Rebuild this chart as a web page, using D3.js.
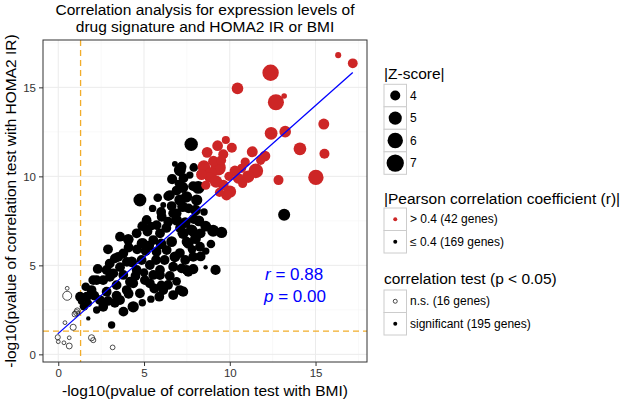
<!DOCTYPE html>
<html><head><meta charset="utf-8">
<script src="https://cdn.jsdelivr.net/npm/d3@7"></script>
<style>body{margin:0;background:#fff}svg{display:block}text{font-family:"Liberation Sans",Arial,Helvetica,sans-serif}</style>
</head><body><svg id="c" width="625" height="401"></svg>
<script>
// ---------- data ----------
// |Pearson r| > 0.4, significant (red)
const redX=[16.32,17.17,12.38,10.45,13.17,12.69,15.48,12.41,13.23,9.77,9.29,10.12,8.68,9.62,14.09,11.31,15.52,12.05,8.49,9.32,8.90,11.52,10.69,11.07,10.49,15.02,12.84,9.62,10.01,8.84,9.81,9.05,8.35,10.3,10.75,9.2,9.95,8.6,11.8,9.4,10.9,9.5];
const redY=[16.81,16.35,15.82,14.94,14.51,14.16,12.94,12.42,12.51,12.04,11.72,11.61,11.35,11.24,11.55,11.38,11.27,11.14,10.54,10.48,10.17,10.31,10.45,9.98,9.89,9.94,9.79,9.51,9.14,9.94,8.95,10.85,10.1,10.3,9.6,9.7,10.0,9.5,10.9,9.1,10.8,10.9];
const redZ=[3.36,3.95,6.49,4.45,3.33,6.33,4.25,4.85,4.45,3.6,4.2,4.0,4.2,4.0,4.85,4.25,4.0,4.2,4.85,5.98,4.7,5.61,3.8,4.7,4.2,5.98,4.0,4.2,4.7,4.2,4.2,4.2,4.2,4.2,3.8,4.7,3.8,3.8,3.8,3.8,3.8,3.95];
// |Pearson r| <= 0.4, significant (black filled)
const blackX=[7.75,6.80,7.09,6.64,7.67,7.25,8.16,8.20,4.76,6.51,7.09,8.07,6.12,6.61,7.48,6.41,7.86,5.15,6.03,5.73,5.40,6.41,6.90,6.90,7.28,7.77,4.57,4.08,3.60,4.95,5.54,5.93,6.61,6.32,5.73,6.80,7.58,7.87,3.79,3.30,4.28,4.86,5.34,4.57,3.79,3.21,2.82,2.62,2.04,1.94,1.66,2.82,3.40,4.18,5.05,5.54,5.93,6.70,7.48,7.09,6.12,9.03,9.52,9.17,8.59,7.87,7.28,7.58,8.26,7.48,7.09,7.87,13.17,5.89,6.70,3.11,1.75,1.27,2.24,3.01,3.60,4.37,3.99,4.76,5.34,2.43,1.75,2.24,2.62,3.50,5.15,6.70,4.86,7.19,5.93,4.37,
7.19,7.25,7.6,8.0,8.5,8.2,7.9,7.4,7.1,8.6,8.3,8.0,6.3,6.0,5.2,4.9,5.5,5.8,6.9,7.0,5.1,4.6,4.1,2.9,2.3,3.0,3.6,4.0,5.7,6.2,6.5,6.9,6.4,5.6,4.9,3.3,2.9,3.8,2.1,1.5,1.35,1.6,3.4,4.5,5.0,4.1,5.4,6.0,8.3,8.6,8.9,7.4,7.8,5.3,6.0,7.3,7.9];
const blackY=[11.8,10.7,10.35,9.85,10.07,9.38,9.38,10.2,8.67,8.95,8.67,8.67,8.39,8.33,8.85,8.89,9.45,7.60,7.73,7.26,7.2,7.45,7.54,7.92,6.80,6.98,6.80,6.46,6.61,6.24,6.42,6.80,6.33,5.86,5.76,5.48,6.24,5.48,5.67,5.39,5.20,5.30,5.02,4.74,4.46,4.55,4.74,4.17,4.17,3.61,3.24,3.52,3.89,4.08,4.17,4.46,4.74,4.92,4.74,3.61,3.61,6.94,6.85,4.74,4.89,4.79,3.52,4.64,6.05,6.33,5.69,6.89,7.84,3.24,3.33,1.65,2.02,3.24,4.17,4.36,3.05,2.67,3.61,3.43,3.99,3.05,2.87,2.49,2.67,5.48,7.54,7.92,6.24,4.83,4.45,3.99,
10.54,8.3,8.2,8.1,8.0,7.5,7.6,7.4,7.1,7.2,6.8,6.5,7.1,6.2,6.9,7.2,8.2,8.8,9.2,9.6,5.8,5.9,6.0,5.9,4.8,5.1,4.9,5.2,5.3,5.3,4.4,4.1,3.9,3.7,2.9,2.9,3.0,2.4,3.3,2.7,3.0,3.8,3.3,4.4,4.6,3.4,3.1,3.9,5.5,5.8,6.2,5.3,5.9,6.1,8.0,9.9,10.5];
const blackZ=[5.10,3.35,4.6,4.05,3.5,4.35,4.9,3.30,4.9,3.95,4.35,4.35,3.35,3.95,4.35,3.95,3.95,3.5,3.95,3.95,3.7,3.95,4.2,3.95,4.35,4.35,3.95,4.2,3.95,3.95,3.95,3.95,4.2,3.95,3.95,4.2,4.2,3.95,3.95,3.95,4.2,3.95,3.95,3.95,3.95,3.95,3.95,3.95,3.95,3.95,3.95,3.95,3.95,3.95,3.95,3.95,3.95,3.95,3.95,3.95,3.95,4.6,4.35,4.05,3.30,4.05,4.05,3.95,3.95,3.95,3.95,3.95,4.6,3.95,3.95,3.5,3.30,3.95,3.95,3.95,3.95,4.35,3.95,3.95,3.95,3.95,3.5,3.5,3.95,3.95,3.95,3.95,3.95,3.95,3.95,3.95,
3.95,4.2,3.95,4.2,3.5,4.2,3.95,4.2,3.95,4.2,3.95,4.2,3.95,4.2,3.95,3.95,3.5,3.7,3.95,3.5,3.95,3.95,3.95,3.95,3.95,3.95,3.95,3.95,3.95,3.95,3.95,3.7,3.95,3.95,3.5,3.95,3.95,3.95,3.95,3.7,3.5,3.7,3.95,3.95,3.7,3.95,3.5,3.7,3.95,3.5,3.7,3.95,3.7,3.95,3.95,3.95,3.7];
// not significant (open circles)
const nsX=[0.52,0.52,1.07,0.97,1.11,0.39,0.87,-0.03,0.0,0.33,0.64,0.64,1.94,2.04,3.17,1.15];
const nsY=[3.71,3.29,2.34,2.26,2.45,1.78,1.52,0.96,0.71,0.65,0.93,0.47,0.93,0.80,0.39,2.30];
const nsZ=[3.3,3.9,3.42,3.38,3.38,3.3,3.42,3.34,3.3,3.3,3.3,3.4,3.42,3.34,3.32,3.3];
// linear fit (end points)
const fitX=[-0.03,17.17];
const fitY=[1.15,15.83];
const xTicks=[0,5,10,15], yTicks=[0,5,10,15];
const xMinor=[2.5,7.5,12.5,17.5], yMinor=[2.5,7.5,12.5,17.5];
const sizeBreaks=[4,5,6,7];
const pearsonLabels=["> 0.4 (42 genes)","\u2264 0.4 (169 genes)"];
const testLabels=["n.s. (16 genes)","significant (195 genes)"];
const pCut=0.05;
const statR="0.88", statP="0.00";
const titleLines=["Correlation analysis for expression levels of","drug signature and HOMA2 IR or BMI"];

// ---------- drawing ----------
const svg=d3.select("#c");
const L=43,R=367,T=40,B=362;
const x=d3.scaleLinear().domain([-0.89,18.0]).range([L,R]);
const y=d3.scaleLinear().domain([-0.43,17.66]).range([B,T]);
const zT=d3.scaleLinear().domain([3.3,7.4]).range([0,1]).clamp(true);
const rS=d3.scaleLinear().domain([0,1]).range([2.2,9.0]);
const rad=z=>rS(Math.sqrt(zT(z)));
const RED="#CD2626", cutCol="#F2AD2B";

svg.append("rect").attr("x",L).attr("y",T).attr("width",R-L).attr("height",B-T).attr("fill","#fff");
const g=svg.append("g");
g.selectAll(".mx").data(xMinor).join("line").attr("x1",d=>x(d)).attr("x2",d=>x(d)).attr("y1",T).attr("y2",B).attr("stroke","#F3F3F3").attr("stroke-width",0.6);
g.selectAll(".my").data(yMinor).join("line").attr("y1",d=>y(d)).attr("y2",d=>y(d)).attr("x1",L).attr("x2",R).attr("stroke","#F3F3F3").attr("stroke-width",0.6);
g.selectAll(".gx").data(xTicks).join("line").attr("x1",d=>x(d)).attr("x2",d=>x(d)).attr("y1",T).attr("y2",B).attr("stroke","#EBEBEB").attr("stroke-width",1);
g.selectAll(".gy").data(yTicks).join("line").attr("y1",d=>y(d)).attr("y2",d=>y(d)).attr("x1",L).attr("x2",R).attr("stroke","#EBEBEB").attr("stroke-width",1);

const cut=-Math.log10(pCut);
svg.append("line").attr("x1",x(cut)).attr("x2",x(cut)).attr("y1",T).attr("y2",B).attr("stroke",cutCol).attr("stroke-width",1.3).attr("stroke-dasharray","6,4");
svg.append("line").attr("y1",y(cut)).attr("y2",y(cut)).attr("x1",L).attr("x2",R).attr("stroke",cutCol).attr("stroke-width",1.3).attr("stroke-dasharray","6,4");

const pts=(X,Y,Z)=>X.map((v,i)=>({x:v,y:Y[i],z:Z[i]}));
svg.append("g").selectAll("circle").data(pts(nsX,nsY,nsZ)).join("circle")
 .attr("cx",d=>x(d.x)).attr("cy",d=>y(d.y)).attr("r",d=>rad(d.z)-0.3).attr("fill","none").attr("stroke","#222").attr("stroke-width",0.8);
svg.append("g").selectAll("circle").data(pts(blackX,blackY,blackZ)).join("circle")
 .attr("cx",d=>x(d.x)).attr("cy",d=>y(d.y)).attr("r",d=>rad(d.z)).attr("fill","#000");
svg.append("g").selectAll("circle").data(pts(redX,redY,redZ)).join("circle")
 .attr("cx",d=>x(d.x)).attr("cy",d=>y(d.y)).attr("r",d=>rad(d.z)).attr("fill",RED);

svg.append("line").attr("x1",x(fitX[0])).attr("y1",y(fitY[0])).attr("x2",x(fitX[1])).attr("y2",y(fitY[1])).attr("stroke","#0000FF").attr("stroke-width",1.3);

// stats text
const st=svg.append("g").attr("fill","#0000FF").style("font-size","17px");
const t1=st.append("text").attr("x",265).attr("y",280);
t1.append("tspan").style("font-style","italic").text("r");
t1.append("tspan").text(" = "+statR);
const t2=st.append("text").attr("x",264).attr("y",302);
t2.append("tspan").style("font-style","italic").text("p");
t2.append("tspan").text(" = "+statP);

// border
svg.append("rect").attr("x",L).attr("y",T).attr("width",R-L).attr("height",B-T).attr("fill","none").attr("stroke","#333").attr("stroke-width",1);

// axes
const xa=svg.append("g").attr("transform",`translate(0,${B})`).call(d3.axisBottom(x).tickValues(xTicks).tickSize(4).tickPadding(3));
const ya=svg.append("g").attr("transform",`translate(${L},0)`).call(d3.axisLeft(y).tickValues(yTicks).tickSize(4).tickPadding(3));
[xa,ya].forEach(a=>{a.select(".domain").remove();a.selectAll("line").attr("stroke","#333");a.selectAll("text").attr("fill","#333").style("font-size","11.5px").style("font-family","'Liberation Sans',Arial,sans-serif");});

// titles
svg.append("text").attr("x",(L+R)/2).attr("y",396).attr("text-anchor","middle").style("font-size","15.5px").text("-log10(pvalue of correlation test with BMI)");
svg.append("text").attr("transform",`translate(16,${(T+B)/2}) rotate(-90)`).attr("text-anchor","middle").style("font-size","15.5px").text("-log10(pvalue of correlation test with HOMA2 IR)");
svg.selectAll(".tt").data(titleLines).join("text").attr("x",205).attr("y",(d,i)=>15+i*16.5).attr("text-anchor","middle").style("font-size","15.5px").text(d=>d);

// legends
const LX=384, KW=22.5, KH=22.5;
function legTitle(t,yb){svg.append("text").attr("x",LX).attr("y",yb).style("font-size","15.5px").text(t);}
function key(i,top,lab){const yy=top+i*KH;svg.append("rect").attr("x",LX).attr("y",yy).attr("width",KW).attr("height",KH).attr("fill","#fff").attr("stroke","#CCCCCC").attr("stroke-width",1);
 svg.append("text").attr("x",LX+KW+3.5).attr("y",yy+KH/2).attr("dy","0.35em").style("font-size","12px").text(lab);return [LX+KW/2,yy+KH/2];}
legTitle("|Z-score|",79);
sizeBreaks.forEach((b,i)=>{const c=key(i,84.3,String(b));svg.append("circle").attr("cx",c[0]).attr("cy",c[1]).attr("r",rad(b)).attr("fill","#000");});
legTitle("|Pearson correlation coefficient (r)|",204);
pearsonLabels.forEach((lab,i)=>{const c=key(i,208,lab);svg.append("circle").attr("cx",c[0]).attr("cy",c[1]).attr("r",2).attr("fill",i===0?RED:"#000");});
legTitle("correlation test (p < 0.05)",284);
testLabels.forEach((lab,i)=>{const c=key(i,290,lab);const cc=svg.append("circle").attr("cx",c[0]).attr("cy",c[1]).attr("r",2);if(i===0)cc.attr("fill","none").attr("stroke","#000").attr("stroke-width",0.7);else cc.attr("fill","#000");});
</script></body></html>
